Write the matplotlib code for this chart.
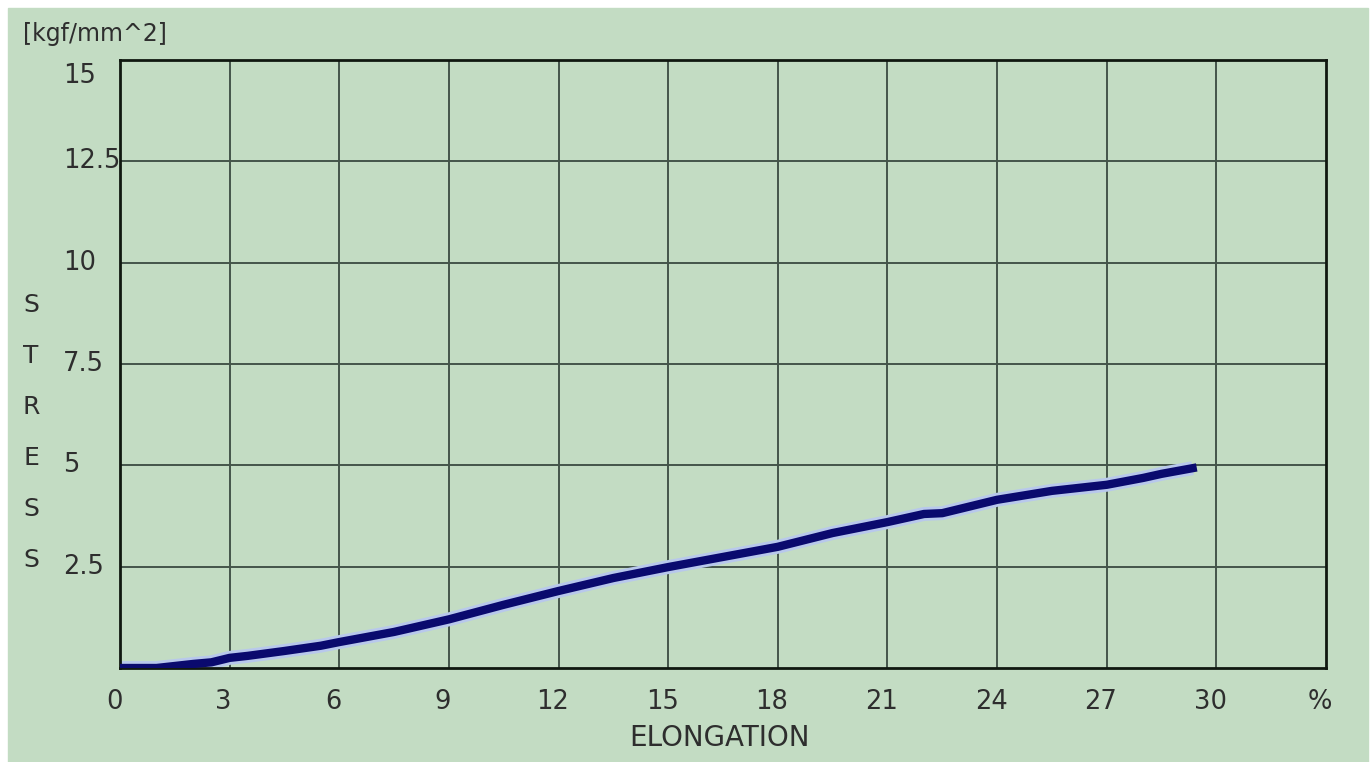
import numpy as np
import matplotlib
matplotlib.use("Agg")
import matplotlib.pyplot as plt
import matplotlib.transforms as mtransforms
from matplotlib.patches import Rectangle

# stress-strain curve
elongation = [0, 1.0, 1.5, 2.0, 2.5, 3.0, 3.5, 4.5, 5.5, 6.0, 7.5, 9.0, 10.5,
              12.0, 13.5, 15.0, 16.5, 18.0, 19.5, 21.0, 22.0, 22.5, 24.0,
              25.5, 27.0, 28.0, 28.5, 29.35]
stress = [0, 0.0, 0.05, 0.1, 0.14, 0.25, 0.3, 0.42, 0.55, 0.64, 0.89, 1.2, 1.56,
          1.9, 2.22, 2.49, 2.74, 2.99, 3.33, 3.6, 3.8, 3.82, 4.15,
          4.37, 4.52, 4.69, 4.79, 4.93]

x_ticks = [0, 3, 6, 9, 12, 15, 18, 21, 24, 27, 30]
y_ticks = [2.5, 5, 7.5, 10, 12.5, 15]
y_labels = ["2.5", "5", "7.5", "10", "12.5", "15"]

bg = "#c3dcc3"
txt = "#2e2e2e"
plt.rcParams["font.family"] = "DejaVu Sans"

fig = plt.figure(figsize=(13.71, 7.62), dpi=100)
fig.patch.set_facecolor("white")
fig.patches.append(Rectangle((8 / 1371, 0), 1 - 11 / 1371, 1 - 8 / 762,
                             transform=fig.transFigure, color=bg, zorder=-10))

ax = fig.add_axes([120 / 1371, 1 - 668 / 762, 1206 / 1371, 608 / 762])
ax.set_facecolor(bg)
ax.set_xlim(0, 33)
ax.set_ylim(0, 15)

for xv in x_ticks[1:]:
    ax.axvline(xv, color="#44554a", lw=1.4, zorder=1)
for yv in y_ticks[:-1]:
    ax.axhline(yv, color="#44554a", lw=1.4, zorder=1)

# light halo then the dark curve
ax.plot(elongation, stress, color="#b8c8ec", lw=10, solid_capstyle="butt", zorder=2)
ax.plot(elongation, stress, color="#0a0a6e", lw=6, zorder=3)

for s in ax.spines.values():
    s.set_color("#101810")
    s.set_linewidth(2)

ax.tick_params(length=0, pad=15)
ax.set_xticks(x_ticks + [33])
ax.set_xticklabels([str(v) for v in x_ticks] + ["%"], fontsize=18.5, color=txt)
off = mtransforms.ScaledTranslation(-6 / 100, 0, fig.dpi_scale_trans)
for lab in ax.get_xticklabels():
    lab.set_transform(lab.get_transform() + off)
ax.set_yticks([])

# y tick labels are left aligned in the original; the top one sits below its line
trans = mtransforms.blended_transform_factory(fig.transFigure, ax.transData)
down = mtransforms.ScaledTranslation(0, -3 / 100, fig.dpi_scale_trans)
for yv, lab in zip(y_ticks, y_labels):
    if yv == y_ticks[-1]:
        fig.text(63 / 1371, yv, lab, transform=trans + down, ha="left", va="top",
                 fontsize=18.5, color=txt)
    else:
        fig.text(63 / 1371, yv, lab, transform=trans, ha="left", va="center",
                 fontsize=18.5, color=txt)

for i, ch in enumerate("STRESS"):
    fig.text(31 / 1371, 1 - (305 + i * 51) / 762, ch, ha="center", va="center",
             fontsize=18, color=txt)

fig.text(23 / 1371, 1 - 34 / 762, "[kgf/mm^2]", ha="left", va="center",
         fontsize=17, color=txt)
fig.text(720 / 1371, 1 - 738 / 762, "ELONGATION", ha="center", va="center",
         fontsize=20, color=txt)

fig.savefig("out.png", dpi=100, facecolor=fig.get_facecolor())
